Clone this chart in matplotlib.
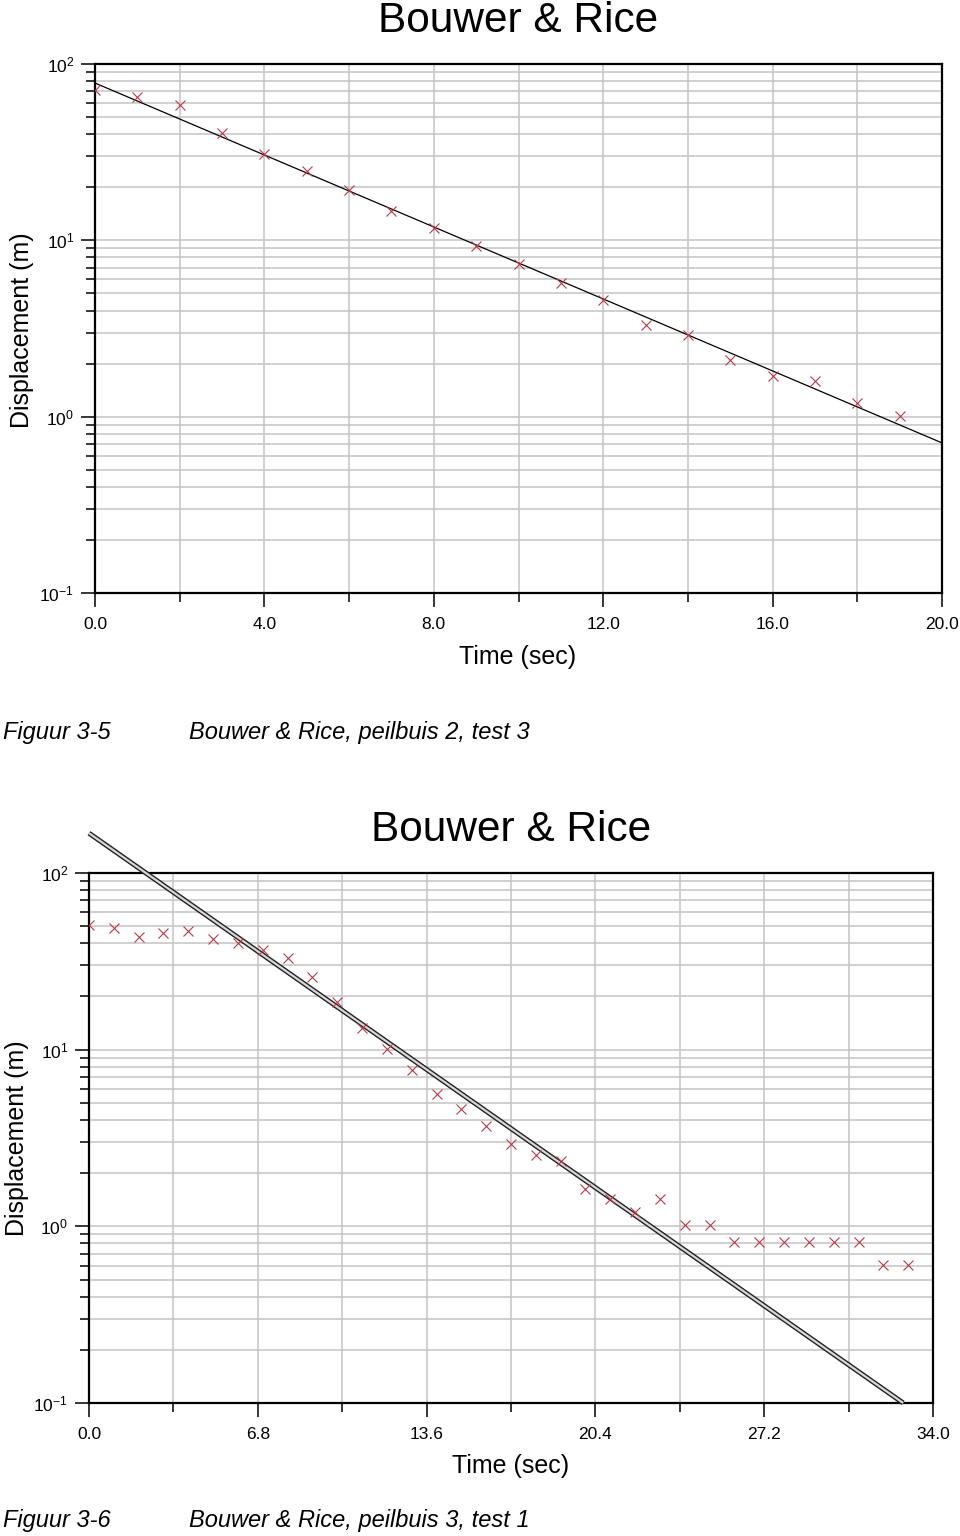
import numpy as np
import matplotlib
matplotlib.use("Agg")
import matplotlib.pyplot as plt
from matplotlib.ticker import FixedLocator, FuncFormatter, LogLocator, NullFormatter

plt.rcParams['font.family'] = ['Liberation Sans', 'DejaVu Sans']
plt.rcParams['mathtext.fontset'] = 'custom'
plt.rcParams['mathtext.rm'] = 'Liberation Sans'
plt.rcParams['mathtext.it'] = 'Liberation Sans:italic'

# ---- Data: Figuur 3-5 (peilbuis 2, test 3) ----
time_a = [0, 1, 2, 3, 4, 5, 6, 7, 8, 9, 10, 11, 12, 13, 14, 15, 16, 17, 18, 19]
disp_a = [71, 65, 58.6, 40.6, 31, 24.8, 19.3, 14.7, 11.8, 9.3, 7.3, 5.7, 4.6,
          3.3, 2.9, 2.1, 1.7, 1.6, 1.2, 1.01]
fit_a_time = [0.0, 20.0]
fit_a_disp = [78.0, 0.71]
xticks_a = [0.0, 4.0, 8.0, 12.0, 16.0, 20.0]
xminor_a = [2.0, 6.0, 10.0, 14.0, 18.0]

# ---- Data: Figuur 3-6 (peilbuis 3, test 1) ----
time_b = list(range(34))
disp_b = [50.8, 49, 43.6, 45.6, 47, 42.5, 40, 36.7, 33.2, 25.9, 18.5, 13.3,
          10.1, 7.7, 5.6, 4.6, 3.7, 2.94, 2.52, 2.34, 1.63, 1.43, 1.21, 1.42,
          1.02, 1.02, 0.815, 0.815, 0.815, 0.815, 0.815, 0.815, 0.608, 0.608]
fit_b_time = [0.0, 32.8]
fit_b_disp = [168.0, 0.1]
xticks_b = [0.0, 6.8, 13.6, 20.4, 27.2, 34.0]
xminor_b = [3.4, 10.2, 17.0, 23.8, 30.6]

title = "Bouwer & Rice"
xlabel = "Time (sec)"
ylabel = "Displacement (m)"
cap_a = ("Figuur 3-5", "Bouwer & Rice, peilbuis 2, test 3")
cap_b = ("Figuur 3-6", "Bouwer & Rice, peilbuis 3, test 1")

fig = plt.figure(figsize=(9.6, 15.36), dpi=100)
W, H = 960.0, 1536.0

grid_col = '#c4c4c4'
mark_col = '#b83a48'


def logfmt(v, pos):
    e = int(round(np.log10(v)))
    return r'$\mathregular{10^{%d}}$' % e


def setup(ax, xmax, xt, xm):
    ax.set_yscale('log')
    ax.set_ylim(0.1, 100)
    ax.set_xlim(0, xmax)
    ax.xaxis.set_major_locator(FixedLocator(xt))
    ax.xaxis.set_minor_locator(FixedLocator(xm))
    ax.set_xticklabels(['%.1f' % v for v in xt])
    ax.yaxis.set_major_locator(LogLocator(base=10, numticks=10))
    ax.yaxis.set_minor_locator(LogLocator(base=10, subs=np.arange(2, 10), numticks=10))
    ax.yaxis.set_major_formatter(FuncFormatter(logfmt))
    ax.yaxis.set_minor_formatter(NullFormatter())
    ax.grid(True, which='both', color=grid_col, lw=1.1, zorder=0)
    ax.set_axisbelow(True)
    for s in ax.spines.values():
        s.set_linewidth(1.6)
        s.set_color('black')
    ax.tick_params(which='major', direction='out', length=10, width=1.1,
                   labelsize=12.5, pad=5)
    ax.tick_params(which='minor', direction='out', length=6.5, width=1.1)
    ax.tick_params(axis='x', which='major', pad=7)


# ---- Top chart ----
ax1 = fig.add_axes([95 / W, 1 - 593 / H, (942 - 95) / W, (593 - 64) / H])
setup(ax1, 20, xticks_a, xminor_a)
ax1.plot(fit_a_time, fit_a_disp, color='black', lw=0.9, zorder=3)
ax1.plot(time_a, disp_a, ls='none', marker='x', color=mark_col, ms=7.5,
         mew=0.8, zorder=4)
fig.text(518 / W, 1 - 21 / H, title, ha='center', va='center', fontsize=30.5)
fig.text(518 / W, 1 - 657 / H, xlabel, ha='center', va='center', fontsize=18)
fig.text(22 / W, 1 - 330 / H, ylabel, ha='center', va='center', fontsize=18,
         rotation=90)
fig.text(3 / W, 1 - 732 / H, cap_a[0], ha='left', va='center', fontsize=17,
         style='italic')
fig.text(189 / W, 1 - 732 / H, cap_a[1], ha='left', va='center', fontsize=17,
         style='italic')

# ---- Bottom chart ----
ax2 = fig.add_axes([89 / W, 1 - 1403 / H, (933 - 89) / W, (1403 - 873) / H])
setup(ax2, 34, xticks_b, xminor_b)
ax2.plot(fit_b_time, fit_b_disp, color='#222222', lw=3.6, zorder=3,
         clip_on=False, solid_capstyle='butt')
ax2.plot(fit_b_time, fit_b_disp, color='#d8d8d8', lw=1.6, zorder=3.1,
         clip_on=False, solid_capstyle='butt')
ax2.plot(time_b, disp_b, ls='none', marker='x', color=mark_col, ms=7.5,
         mew=0.8, zorder=4)
fig.text(511 / W, 1 - 830 / H, title, ha='center', va='center', fontsize=30.5)
fig.text(511 / W, 1 - 1466 / H, xlabel, ha='center', va='center', fontsize=18)
fig.text(17 / W, 1 - 1138 / H, ylabel, ha='center', va='center', fontsize=18,
         rotation=90)
fig.text(3 / W, 1 - 1520 / H, cap_b[0], ha='left', va='center', fontsize=17,
         style='italic')
fig.text(189 / W, 1 - 1520 / H, cap_b[1], ha='left', va='center', fontsize=17,
         style='italic')

fig.savefig('out.png', dpi=100, facecolor='white')
